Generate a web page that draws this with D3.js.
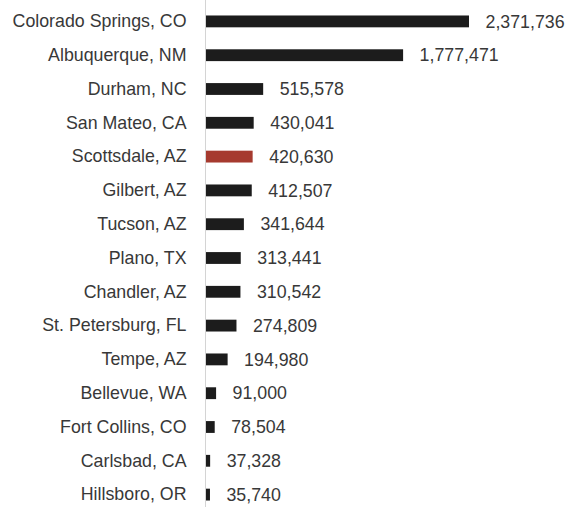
<!DOCTYPE html>
<html>
<head>
<meta charset="utf-8">
<script src="https://cdn.jsdelivr.net/npm/d3@7"></script>
<style>
  html, body { margin: 0; padding: 0; background: #ffffff; }
  svg { display: block; }
  text { font-family: "Liberation Sans", Arial, Helvetica, sans-serif; }
</style>
</head>
<body>
<svg id="chart" width="573" height="507"></svg>
<script>
// Cities, ranked by value
const cities = [
  "Colorado Springs, CO", "Albuquerque, NM", "Durham, NC", "San Mateo, CA",
  "Scottsdale, AZ", "Gilbert, AZ", "Tucson, AZ", "Plano, TX", "Chandler, AZ",
  "St. Petersburg, FL", "Tempe, AZ", "Bellevue, WA", "Fort Collins, CO",
  "Carlsbad, CA", "Hillsboro, OR"
];
const values = [
  2371736, 1777471, 515578, 430041, 420630, 412507, 341644, 313441, 310542,
  274809, 194980, 91000, 78504, 37328, 35740
];
const highlighted = ["Scottsdale, AZ"];

const data = cities.map((c, i) => ({ city: c, value: values[i] }));

const svg = d3.select("#chart");
const x0 = 205.5;
const fontSize = 17.8;
const textColor = "#383838";

const x = d3.scaleLinear()
  .domain([0, d3.max(values)])
  .range([x0, x0 + 263]);

const y = d3.scaleBand()
  .domain(cities)
  .range([4.5, 511.5])
  .paddingInner(0.65)
  .paddingOuter(0.325);

// Category axis with a thin gray baseline
const axis = svg.append("g")
  .attr("transform", `translate(${x0},0)`)
  .call(d3.axisLeft(y).tickSize(0).tickSizeOuter(0).tickPadding(19));
axis.select(".domain").attr("stroke", "#d4d4d4").attr("stroke-width", 1)
  .attr("d", "M0,0V507");
axis.selectAll("text")
  .attr("font-size", fontSize)
  .attr("fill", textColor)
  .attr("font-family", "\"Liberation Sans\", Arial, sans-serif");

// Bars
svg.append("g").selectAll("rect")
  .data(data)
  .join("rect")
  .attr("x", x0 + 0.5)
  .attr("y", d => y(d.city))
  .attr("width", d => Math.max(0, x(d.value) - x0))
  .attr("height", y.bandwidth())
  .attr("fill", d => highlighted.includes(d.city) ? "#a63a2f" : "#1c1c1c");

// Value labels
const fmt = d3.format(",");
svg.append("g").selectAll("text")
  .data(data)
  .join("text")
  .attr("x", d => x(d.value) + 17)
  .attr("y", d => y(d.city) + y.bandwidth() / 2)
  .attr("dy", "0.35em")
  .attr("font-size", fontSize)
  .attr("fill", textColor)
  .text(d => fmt(d.value));
</script>
</body>
</html>
